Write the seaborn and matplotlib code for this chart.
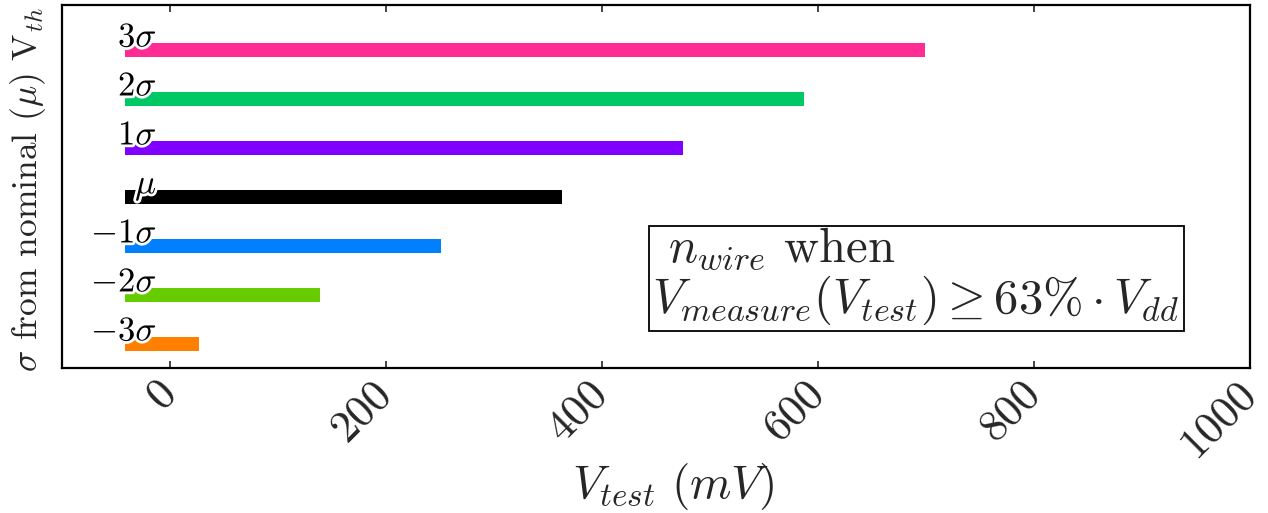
import matplotlib
matplotlib.use("Agg")
import matplotlib.pyplot as plt
import matplotlib.patheffects as pe
import pandas as pd
import seaborn as sns

# Threshold-voltage corners and the test voltage at which each corner switches
corner_labels = [r"$3\sigma$", r"$2\sigma$", r"$1\sigma$", r"$\mu$",
                 r"$-1\sigma$", r"$-2\sigma$", r"$-3\sigma$"]
v_test_mv = [699, 587, 475, 363, 251, 139, 27]
bar_start_mv = -42
corner_colors = ["#ff2d93", "#00c864", "#7f00ff", "#000000",
                 "#0080ff", "#66cc00", "#ff8000"]
x_ticks = [0, 200, 400, 600, 800, 1000]

sns.set_theme(style="white")
plt.rcParams.update({
    "font.family": "serif",
    "font.serif": ["cmr10"],
    "mathtext.fontset": "cm",
    "axes.formatter.use_mathtext": True,
    "axes.unicode_minus": False,
})

df = pd.DataFrame({"corner": corner_labels, "v_test": v_test_mv})

fig = plt.figure(figsize=(12.68, 5.13), dpi=100)
ax = fig.add_axes([0.0489, 0.2827, 0.9369, 0.7076])

sns.barplot(data=df, x="v_test", y="corner", hue="corner",
            palette=corner_colors, orient="h", width=0.27,
            legend=False, ax=ax, saturation=1)

# bars run from the common start voltage up to each corner's value
for patch in ax.patches:
    end = patch.get_width()
    patch.set_x(bar_start_mv)
    patch.set_width(end - bar_start_mv)
    patch.set_edgecolor("none")

# corner names sit just above the left end of each bar
for i, lab in enumerate(corner_labels):
    ax.text(-12, i - 0.07, lab, ha="right", va="baseline", fontsize=25,
            color="black",
            path_effects=[pe.withStroke(linewidth=4, foreground="white")])

ax.set_xlim(-100, 1000)
ax.set_ylim(6.49, -0.92)
ax.set_xticks(x_ticks)
ax.set_xticklabels([str(t) for t in x_ticks], fontsize=32)
plt.setp(ax.get_xticklabels(), rotation=45, ha="right", va="center",
         rotation_mode="anchor")
ax.set_yticks([])
ax.tick_params(axis="x", direction="in", length=5, width=1.2,
               top=True, bottom=True, pad=14)

for sp in ax.spines.values():
    sp.set_visible(True)
    sp.set_color("black")
    sp.set_linewidth(1.6)

ax.set_xlabel(r"$V_{test}\ (mV)$", fontsize=34)
ax.xaxis.set_label_coords(0.514, -0.255)
ax.set_ylabel(r"$\sigma$ from nominal ($\mu$) V$_{th}$", fontsize=25.5)
ax.yaxis.set_label_coords(-0.012, 0.49)

ax.text(0.497, 0.112,
        " $n_{wire}$ when\n$V_{measure}(V_{test}) \\geq 63\\% \\cdot V_{dd}$",
        transform=ax.transAxes, ha="left", va="bottom", fontsize=35,
        linespacing=1.05,
        bbox=dict(boxstyle="square,pad=0.08", facecolor="white",
                  edgecolor="black", linewidth=1.3))

fig.savefig("out.png", dpi=100)
